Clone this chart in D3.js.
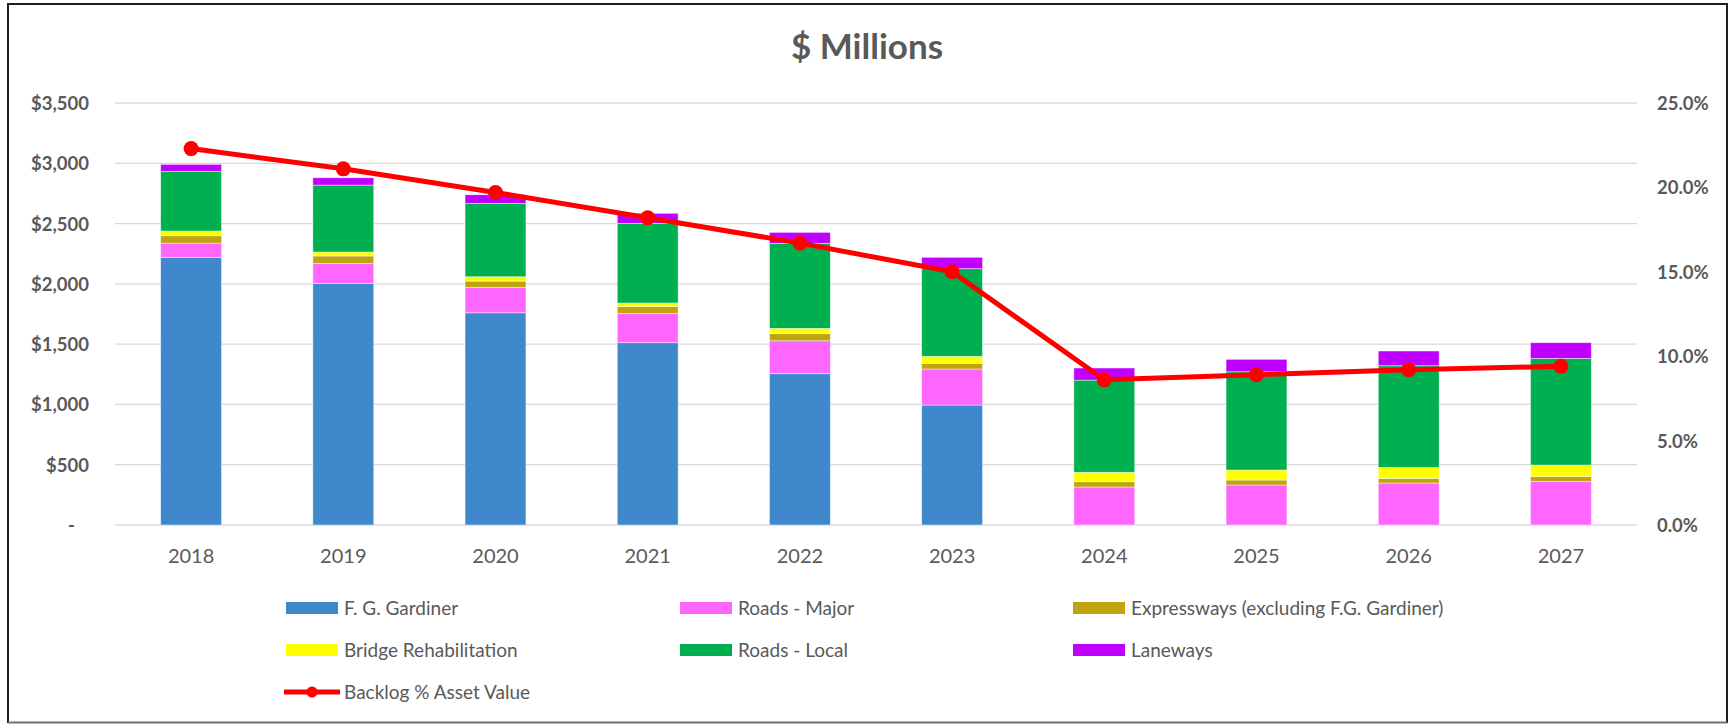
<!DOCTYPE html>
<html>
<head>
<meta charset="utf-8">
<script src="https://cdn.jsdelivr.net/npm/d3@7"></script>
<style>
  html, body { margin: 0; padding: 0; background: #fff; }
  svg { display: block; font-family: Lato, "Open Sans", sans-serif; }
</style>
</head>
<body>
<svg id="chart" width="1729" height="724"></svg>
<script>
// Years on the category axis
const years = ["2018", "2019", "2020", "2021", "2022", "2023", "2024", "2025", "2026", "2027"];

// Backlog by asset group, $ millions (stacked bottom to top)
const gardiner    = [2220, 2004, 1760, 1512, 1255, 995, 0, 0, 0, 0];
const roadsMajor  = [118, 166, 211, 243, 273, 299, 315, 332, 348, 362];
const expressways = [61, 61, 52, 56, 59, 47, 44, 41, 39, 39];
const bridge      = [39, 33, 36, 30, 44, 58, 78, 83, 91, 96];
const roadsLocal  = [495, 555, 608, 661, 705, 727, 765, 815, 843, 885];
const laneways    = [58, 61, 72, 83, 91, 94, 100, 103, 122, 130];

// Backlog as a percentage of asset value (secondary axis)
const backlogPct  = [22.3, 21.1, 19.7, 18.2, 16.7, 15.0, 8.6, 8.9, 9.2, 9.4];

// Axis ticks
const leftTicks  = [0, 500, 1000, 1500, 2000, 2500, 3000, 3500];
const rightTicks = [0, 5, 10, 15, 20, 25];

const seriesNames  = ["F. G. Gardiner", "Roads - Major", "Expressways (excluding F.G. Gardiner)",
                      "Bridge Rehabilitation", "Roads - Local", "Laneways"];
const seriesValues = [gardiner, roadsMajor, expressways, bridge, roadsLocal, laneways];
const seriesColors = ["#3F88CC", "#FF66FF", "#BFA30F", "#FFFF00", "#00B050", "#C000FF"];
const lineName = "Backlog % Asset Value";

const svg = d3.select("#chart");
const W = 1729, H = 724;
const plot = { left: 115, right: 1637, top: 103, bottom: 525 };
const textGray = "#595959";

svg.append("rect").attr("width", W).attr("height", H).attr("fill", "#fff");

// Chart frame
svg.append("path")
  .attr("d", `M8,723 V4 H1727 V723`)
  .attr("fill", "none").attr("stroke", "#1e1e1e").attr("stroke-width", 2);
svg.append("line")
  .attr("x1", 8).attr("x2", 1727).attr("y1", 722.5).attr("y2", 722.5)
  .attr("stroke", "#707070").attr("stroke-width", 2);

// Scales
const x = d3.scaleBand().domain(years).range([plot.left, plot.right])
  .paddingInner(0.6).paddingOuter(0.3);
const y = d3.scaleLinear().domain([0, 3500]).range([plot.bottom, plot.top]);
const y2 = d3.scaleLinear().domain([0, 25]).range([plot.bottom, plot.top]);

// Title
svg.append("text")
  .attr("x", 867).attr("y", 59)
  .attr("text-anchor", "middle")
  .attr("font-size", 35).attr("font-weight", 700)
  .attr("fill", textGray)
  .text("$ Millions");

// Gridlines
svg.append("g").selectAll("line").data(leftTicks).join("line")
  .attr("x1", plot.left).attr("x2", plot.right)
  .attr("y1", d => y(d)).attr("y2", d => y(d))
  .attr("stroke", "#d9d9d9").attr("stroke-width", 1.3);

// Left axis
const leftAxis = d3.axisLeft(y).tickValues(leftTicks).tickSize(0).tickPadding(0)
  .tickFormat(d => d === 0 ? "-" : "$" + d3.format(",")(d));
const gL = svg.append("g").attr("transform", `translate(${plot.left - 26},0)`).call(leftAxis);
gL.select(".domain").remove();
gL.selectAll("text")
  .attr("font-family", "Lato, sans-serif").attr("font-size", 18.5).attr("font-weight", 700)
  .attr("fill", textGray).attr("dy", "0.35em")
  .attr("dx", d => d === 0 ? -14 : 0);

// Right axis
const rightAxis = d3.axisRight(y2).tickValues(rightTicks).tickSize(0).tickPadding(0)
  .tickFormat(d => d.toFixed(1) + "%");
const gR = svg.append("g").attr("transform", `translate(1657,0)`).call(rightAxis);
gR.select(".domain").remove();
gR.selectAll("text")
  .attr("font-family", "Lato, sans-serif").attr("font-size", 18.5).attr("font-weight", 700)
  .attr("fill", textGray).attr("dy", "0.35em");

// Bottom axis
const bottomAxis = d3.axisBottom(x).tickSize(0).tickPadding(0);
const gB = svg.append("g").attr("transform", `translate(0,${plot.bottom + 38})`).call(bottomAxis);
gB.select(".domain").remove();
gB.selectAll("text")
  .attr("font-family", "Lato, sans-serif").attr("font-size", 20)
  .attr("fill", textGray).attr("dy", 0);

// Stacked bars
const rows = years.map((yr, i) => {
  const r = { year: yr };
  seriesNames.forEach((n, k) => { r[n] = seriesValues[k][i]; });
  return r;
});
const stacked = d3.stack().keys(seriesNames)(rows);

svg.append("g").selectAll("g").data(stacked).join("g")
  .attr("fill", (d, k) => seriesColors[k])
  .selectAll("rect").data(d => d).join("rect")
    .attr("x", d => x(d.data.year))
    .attr("width", x.bandwidth())
    .attr("y", d => y(d[1]))
    .attr("height", d => Math.max(0, y(d[0]) - y(d[1])))
    .attr("stroke", "#ffffff").attr("stroke-opacity", 0.55).attr("stroke-width", 0.8);

// Backlog line with markers
const cx = i => x(years[i]) + x.bandwidth() / 2;
const line = d3.line().x((d, i) => cx(i)).y(d => y2(d));
svg.append("path").datum(backlogPct)
  .attr("d", line).attr("fill", "none")
  .attr("stroke", "#FF0000").attr("stroke-width", 5).attr("stroke-linejoin", "round");
svg.append("g").selectAll("circle").data(backlogPct).join("circle")
  .attr("cx", (d, i) => cx(i)).attr("cy", d => y2(d)).attr("r", 7.5)
  .attr("fill", "#FF0000");

// Legend
const legendCols = [286, 680, 1073];
const legendRows = [608, 650, 692];
const legend = svg.append("g").attr("font-family", "Lato, sans-serif");
seriesNames.forEach((name, k) => {
  const lx = legendCols[k % 3], ly = legendRows[Math.floor(k / 3)];
  legend.append("rect").attr("x", lx).attr("y", ly - 6).attr("width", 52).attr("height", 12)
    .attr("fill", seriesColors[k]);
  legend.append("text").attr("x", lx + 58).attr("y", ly).attr("dy", "0.35em")
    .attr("font-size", 19).attr("fill", textGray).text(name);
});
{
  const lx = legendCols[0], ly = legendRows[2];
  legend.append("line").attr("x1", lx - 2).attr("x2", lx + 54).attr("y1", ly).attr("y2", ly)
    .attr("stroke", "#FF0000").attr("stroke-width", 5);
  legend.append("circle").attr("cx", lx + 26).attr("cy", ly).attr("r", 5.5).attr("fill", "#FF0000");
  legend.append("text").attr("x", lx + 58).attr("y", ly).attr("dy", "0.35em")
    .attr("font-size", 19).attr("fill", textGray).text(lineName);
}
</script>
</body>
</html>
